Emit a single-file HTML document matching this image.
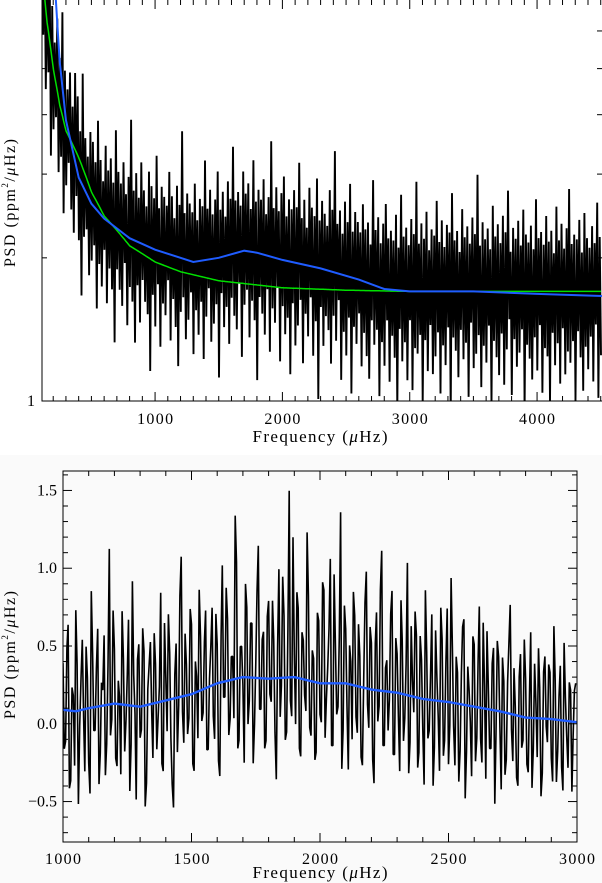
<!DOCTYPE html>
<html><head><meta charset="utf-8">
<style>
html,body{margin:0;padding:0;background:#fff;}
svg{display:block;font-family:"Liberation Serif",serif;}
</style></head>
<body>
<svg id="chart" width="602" height="883" viewBox="0 0 602 883" xmlns="http://www.w3.org/2000/svg">
<defs>
<clipPath id="ctop"><rect x="42" y="0" width="560" height="401"/></clipPath>
<clipPath id="cbot"><rect x="63" y="471" width="514" height="371"/></clipPath>
</defs>
<rect x="0" y="455" width="602" height="428" fill="#fafafa"/>
<g id="topPanel"></g>
<g id="botPanel"></g>
</svg>
<script>
// ---- top panel data ----
const topFreqStart = 112;
const topFreqStep = 20;
const topHiPct = [128,135,122,150,130,118,142,126,165,131,124,138,120,145,133,127,172,129,121,140,
136,125,155,130,119,143,128,137,123,160,132,126,141,122,134,178,127,139,124,148,
130,121,144,135,128,158,123,137,131,126,149,133,120,141,129,185,125,138,132,127,
146,122,135,130,162,128,140,124,133,152,126,137,121,143,131,168,129,134,125,147,
132,139,123,156,128,136,130,144,122,133,175,127,141,126,138,150,124,135,129,142,
131,163,125,137,120,146,133,128,154,126,139,131,124,148,135,180,127,136,122,143,
130,157,125,138,132,126,145,129,134,121,166,131,140,124,137,151,128,133,127,144,
123,159,130,136,125,142,132,170,126,139,129,147,122,135,131,155,127,141,124,138,
133,161,128,134,121,149,130,137,126,143,132,176,125,140,129,136,123,152,131,139,
127,145,134,164,122,137,130,142,126,150,133,128,139,124,158,131,135,127,146,129,
136,122,153,130,141,125,138,167,128,134,131,144,123,149,132,126,140,129,157,133];
const topLoPct = [78,68,82,60,75,85,70,80,64,77,88,72,66,81,74,58,79,84,69,76,
83,62,78,71,86,67,80,73,57,82,75,70,87,65,79,74,61,81,68,84,
76,72,55,80,69,85,63,78,74,88,66,81,71,59,77,83,68,75,86,64,
79,70,82,62,76,87,67,73,80,56,84,71,78,65,81,74,69,86,60,77,
83,66,79,72,54,81,75,68,85,63,78,73,87,61,80,70,76,58,82,67,
74,84,62,79,71,86,65,77,53,83,69,80,75,64,81,72,88,60,76,68,
82,57,79,73,85,66,78,70,63,84,75,81,59,77,69,86,64,80,72,56,
83,71,78,65,87,62,76,74,81,58,79,68,85,67,73,82,61,77,70,84,
55,80,75,66,83,72,78,60,86,69,74,81,63,77,71,85,58,79,73,67,
82,64,76,88,61,80,70,75,84,57,78,73,66,81,69,86,62,77,74,59,
83,71,79,65,85,68,76,72,80,60,84,74,63,78,70,82,66,87,61,75];
const fitFreqs = [112,150,200,250,300,400,500,600,800,1000,1200,1500,2000,2500,3000,4600];
const fitVals = [8.0,6.3,5.0,4.2,3.7,3.25,2.75,2.45,2.12,1.96,1.87,1.79,1.73,1.71,1.70,1.70];
const smoothFreqs = [195,220,250,300,400,500,600,800,1000,1200,1300,1500,1700,1800,2000,2300,2600,2800,3000,3500,4000,4600];
const smoothVals = [9,7,5.2,3.9,2.95,2.6,2.42,2.2,2.08,2.0,1.96,2.0,2.07,2.05,1.98,1.9,1.8,1.72,1.70,1.70,1.68,1.66];
const topXTicks = [1000,2000,3000,4000];
const topYTicks = [2,3,4,5,6];
// ---- bottom panel data ----
const botFreqStart = 1000;
const botFreqStep = 10;
const botResidPct = [30,-20,55,-45,10,65,-60,20,-5,40,-35,75,-15,25,-50,15,45,-25,100,-10,
35,-40,5,60,-30,20,-55,80,-5,30,-20,50,-65,10,40,-35,25,-10,70,-45,
15,55,-25,-70,35,-5,90,-30,20,-15,45,-50,10,65,-20,30,-40,5,50,-35,
25,-60,75,-10,40,-25,15,105,-45,20,-5,60,-30,35,-55,10,85,-20,30,-40,
50,-15,25,-65,70,-5,40,-35,120,-25,15,55,-45,30,-10,95,-30,20,-50,45,
-20,65,-35,10,80,-40,25,-15,110,-30,35,-55,15,60,-20,40,-45,5,75,-25,
30,-60,50,-10,90,-35,20,-5,65,-40,25,-50,35,-15,85,-30,10,55,-45,40,
-20,70,-25,15,-55,45,-10,60,-35,25,-40,80,-15,30,-50,20,55,-30,10,-45,
40,-20,65,-35,15,50,-25,30,-60,45,-10,35,-40,20,70,-30,5,-45,40,-15,
25,-35,55,-20,10,45,-50,30,-5,35,-25,60,-40,15,-30,50,-10,25,-45,20];
const botResid2Pct = [-25,40,-50,15,-35,30,-10,45,-40,20,-55,35,-15,50,-30,10,-45,25,-20,60,
-35,15,-45,30,-10,55,-25,20,-60,40,-15,35,-50,25,-5,45,-30,10,-40,50,
-20,30,-55,15,-35,65,-10,40,-25,55,-45,20,-30,35,-15,50,-40,25,-20,45,
-50,30,-10,60,-35,15,-25,75,-40,20,-55,45,-15,35,-30,55,-20,25,-45,40,
-10,50,-35,20,-25,65,-40,30,-15,90,-30,45,-50,25,-20,55,-35,15,-45,40,
-25,60,-10,35,-40,70,-20,30,-55,50,-15,25,-35,45,-30,20,-50,55,-10,40,
-45,30,-20,65,-35,15,-25,50,-40,35,-15,60,-30,20,-50,45,-10,40,-35,25,
-55,30,-20,55,-30,15,-45,40,-25,60,-15,35,-40,20,-30,50,-60,25,-10,45,
-35,30,-20,55,-45,15,-25,40,-15,35,-50,20,-30,45,-10,30,-40,25,-20,50,
-30,15,-45,35,-25,20,-35,40,-15,30,-40,25,-20,35,-45,15,-30,20,-10,25];
const botSmoothFreqs = [1000,1050,1100,1200,1300,1400,1500,1600,1700,1800,1900,2000,2100,2200,2300,2400,2500,2600,2700,2800,2900,3000];
const botSmoothVals = [0.09,0.08,0.1,0.13,0.11,0.15,0.19,0.26,0.3,0.29,0.3,0.26,0.26,0.22,0.2,0.16,0.14,0.11,0.08,0.04,0.03,0.01];
const botXTicks = [1000,1500,2000,2500,3000];
const botYTicks = [-0.5,0.0,0.5,1.0,1.5];

const NS="http://www.w3.org/2000/svg";
function mk(parent,tag,attrs){const e=document.createElementNS(NS,tag);for(const k in attrs)e.setAttribute(k,attrs[k]);parent.appendChild(e);return e;}
function interp(xs,ys,x){if(x<=xs[0])return ys[0];for(let i=1;i<xs.length;i++){if(x<=xs[i]){const q=(x-xs[i-1])/(xs[i]-xs[i-1]);return ys[i-1]+q*(ys[i]-ys[i-1]);}}return ys[ys.length-1];}
function psdTitle(g,x,y){
  const e=mk(g,'text',{transform:'translate('+x+','+y+') rotate(-90)','text-anchor':'middle','font-size':16,textLength:128,lengthAdjust:'spacing'});
  const parts=[['PSD (ppm',{}],['2',{'font-size':9,dy:-7}],['/',{dy:7}],['μ',{'font-style':'italic'}],['Hz)',{}]];
  parts.forEach(p=>{const s=mk(e,'tspan',p[1]);s.textContent=p[0];});
  return e;
}
function freqTitle(g,x,y){
  const e=mk(g,'text',{x:x,y:y,'text-anchor':'middle','font-size':17,textLength:135,lengthAdjust:'spacing'});
  [['Frequency (',{}],['μ',{'font-style':'italic'}],['Hz)',{}]].forEach(p=>{const s=mk(e,'tspan',p[1]);s.textContent=p[0];});
  return e;
}

// ---- TOP ----
const T={x0:42,x1:602,y0:0,y1:401,fmin:112,fmax:4510,lmin:0,lmax:Math.log10(6.97)};
const tx=f=>T.x0+(f-T.fmin)/(T.fmax-T.fmin)*(T.x1-T.x0);
const ty=v=>T.y1-(Math.log10(v)-T.lmin)/(T.lmax-T.lmin)*(T.y1-T.y0);
const topBase=f=>f<400?interp(fitFreqs,fitVals,f):interp(smoothFreqs,smoothVals,f);
const topG=document.getElementById('topPanel');
let pts=[];
topHiPct.forEach((r,i)=>{const f=topFreqStart+i*topFreqStep;
  pts.push(tx(f).toFixed(1)+','+ty(topBase(f)*r/100).toFixed(1));
  const f2=f+topFreqStep/2;
  pts.push(tx(f2).toFixed(1)+','+ty(topBase(f2)*topLoPct[i]/100).toFixed(1));});
const tn=mk(topG,'polyline',{points:pts.join(' '),fill:'none',stroke:'#000','stroke-width':1.9,'stroke-linejoin':'bevel','clip-path':'url(#ctop)'});


pts=[];for(let f=T.fmin;f<=T.fmax;f+=10)pts.push(tx(f).toFixed(1)+','+ty(interp(fitFreqs,fitVals,f)).toFixed(1));
const tg=mk(topG,'polyline',{points:pts.join(' '),fill:'none',stroke:'#00e000','stroke-width':1.5,'clip-path':'url(#ctop)'});


pts=[];smoothFreqs.forEach((f,i)=>pts.push(tx(f).toFixed(1)+','+ty(smoothVals[i]).toFixed(1)));
const tb=mk(topG,'polyline',{points:pts.join(' '),fill:'none',stroke:'#1f5cff','stroke-width':2,'clip-path':'url(#ctop)'});


const tf=mk(topG,'rect',{x:T.x0,y:T.y0-1,width:T.x1-T.x0+2,height:T.y1-T.y0+1,fill:'none',stroke:'#000','stroke-width':1});


for(let f=200;f<=4500;f+=100){const x=tx(f),L=(f%1000===0)?9:5;
mk(topG,'line',{x1:x,x2:x,y1:T.y1,y2:T.y1-L,stroke:'#000'});mk(topG,'line',{x1:x,x2:x,y1:T.y0,y2:T.y0+L,stroke:'#000'});}
topXTicks.forEach(f=>{const e=mk(topG,'text',{x:tx(f),y:424,'text-anchor':'middle','font-size':16,textLength:36,lengthAdjust:'spacing'});e.textContent=f;

});
topYTicks.forEach(v=>{const y=ty(v);mk(topG,'line',{x1:T.x0,x2:T.x0+5,y1:y,y2:y,stroke:'#000'});mk(topG,'line',{x1:T.x1-5,x2:T.x1,y1:y,y2:y,stroke:'#000'});});
let lbl=mk(topG,'text',{x:35,y:406,'text-anchor':'end','font-size':16});lbl.textContent='1';


lbl=freqTitle(topG,320,442);


lbl=psdTitle(topG,15,203);



// ---- BOTTOM ----
const B={x0:63,x1:577,y0:471,y1:842,fmin:1000,fmax:3000,vmin:-0.76,vmax:1.625};
const bx=f=>B.x0+(f-B.fmin)/(B.fmax-B.fmin)*(B.x1-B.x0);
const by=v=>B.y1-(v-B.vmin)/(B.vmax-B.vmin)*(B.y1-B.y0);
const botG=document.getElementById('botPanel');
pts=[];
botResidPct.forEach((r,i)=>{const f=botFreqStart+i*botFreqStep;
  pts.push(bx(f).toFixed(1)+','+by(interp(botSmoothFreqs,botSmoothVals,f)+r/100).toFixed(1));
  const f2=f+botFreqStep/2;
  pts.push(bx(f2).toFixed(1)+','+by(interp(botSmoothFreqs,botSmoothVals,f2)+botResid2Pct[i]/100).toFixed(1));});
const bn=mk(botG,'polyline',{points:pts.join(' '),fill:'none',stroke:'#000','stroke-width':1.6,'stroke-linejoin':'bevel','clip-path':'url(#cbot)'});


pts=[];botSmoothFreqs.forEach((f,i)=>pts.push(bx(f).toFixed(1)+','+by(botSmoothVals[i]).toFixed(1)));
const bb=mk(botG,'polyline',{points:pts.join(' '),fill:'none',stroke:'#1f5cff','stroke-width':2.4,'clip-path':'url(#cbot)'});


const bf=mk(botG,'rect',{x:B.x0,y:B.y0,width:B.x1-B.x0,height:B.y1-B.y0,fill:'none',stroke:'#000','stroke-width':1});


for(let f=1100;f<3000;f+=100){const x=bx(f),L=(f%500===0)?9:5;
mk(botG,'line',{x1:x,x2:x,y1:B.y1,y2:B.y1-L,stroke:'#000'});mk(botG,'line',{x1:x,x2:x,y1:B.y0,y2:B.y0+L,stroke:'#000'});}
for(let k=-7;k<=16;k++){const v=k/10,y=by(v),L=(k%5===0)?9:5;
mk(botG,'line',{x1:B.x0,x2:B.x0+L,y1:y,y2:y,stroke:'#000'});mk(botG,'line',{x1:B.x1-L,x2:B.x1,y1:y,y2:y,stroke:'#000'});}
botXTicks.forEach(f=>{const e=mk(botG,'text',{x:bx(f),y:864,'text-anchor':'middle','font-size':16,textLength:36,lengthAdjust:'spacing'});e.textContent=f;

});
botYTicks.forEach(v=>{const e=mk(botG,'text',{x:57,y:by(v)+5,'text-anchor':'end','font-size':16});e.textContent=(v<0?'\u2212':'')+Math.abs(v).toFixed(1);

});
lbl=freqTitle(botG,320,878);


lbl=psdTitle(botG,15,655);


</script>
</body></html>
